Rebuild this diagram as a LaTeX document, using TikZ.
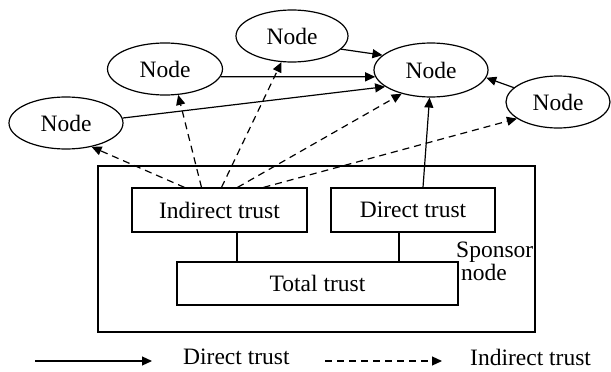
\documentclass[tikz,border=0pt]{standalone}
\usepackage{fontspec}
\setmainfont{Liberation Serif}
\usetikzlibrary{shapes.geometric,arrows.meta}
\begin{document}
\begin{tikzpicture}[x=1pt,y=-1pt,
  every node/.style={font=\fontsize{23.5}{22}\selectfont},
  peer/.style={draw,ellipse,line width=1.2pt,inner sep=0pt},
  box/.style={draw,rectangle,line width=1.2pt,inner sep=0pt},
  dir/.style={line width=1.2pt,-{Triangle[length=10pt,width=9pt]}},
  ind/.style={line width=1.2pt,dash pattern=on 7pt off 5pt,-{Triangle[length=10pt,width=9pt]}},
  conn/.style={line width=1.2pt}]
\useasboundingbox (0,0) rectangle (611,372);
% peer nodes
\node[peer,minimum width=114pt,minimum height=52pt] (nA) at (66,123) {Node};
\node[peer,minimum width=115pt,minimum height=52pt] (nB) at (165,69) {Node};
\node[peer,minimum width=112pt,minimum height=52pt] (nC) at (292,36) {Node};
\node[peer,minimum width=114pt,minimum height=54pt] (nD) at (431,70) {Node};
\node[peer,minimum width=104pt,minimum height=52pt] (nE) at (558,102) {Node};
% sponsor node
\node[box,minimum width=437pt,minimum height=166pt] (sp) at (316.5,249) {};
\node[box,minimum width=175pt,minimum height=44pt] (it) at (219.5,210) {Indirect trust};
\node[box,minimum width=164pt,minimum height=44pt] (dt) at (413,210) {Direct trust};
\node[box,minimum width=281pt,minimum height=43pt] (tt) at (317.5,283.5) {Total trust};
\node[anchor=west,align=left,inner sep=0pt] (spl) at (456,261) {Sponsor\\[1pt]\hspace*{5pt}node};
% internal links
\draw[conn] ([xshift=17.5pt]it.south) -- ([xshift=17.5pt]it.south |- tt.north);
\draw[conn] ([xshift=-14pt]dt.south) -- ([xshift=-14pt]dt.south |- tt.north);
% direct trust arrows
\draw[dir] (nB.-8) -- (nD.187);
\draw[dir] (nA.5) -- (nD.200);
\draw[dir] (nC.-15) -- (nD.163);
\draw[dir] (nE.162) -- (nD.-8);
\draw[dir] ([xshift=10pt]dt.north) -- (nD.-93);
% indirect trust arrows
\draw[ind] ([xshift=-35pt]it.north) -- (nA.-43);
\draw[ind] ([xshift=-18pt]it.north) -- (nB.-63);
\draw[ind] ([xshift=2pt]it.north) -- (nC.-112);
\draw[ind] ([xshift=18pt]it.north) -- (nD.-141);
\draw[ind] ([xshift=44pt]it.north) -- (nE.-158);
% legend
\coordinate (l1a) at (35,361);
\coordinate (l1b) at (152,361);
\coordinate (l2a) at (325,361);
\coordinate (l2b) at (442,361);
\draw[dir] (l1a) -- (l1b);
\node[anchor=west,inner sep=0pt] (l1t) at (183,357) {Direct trust};
\draw[ind] (l2a) -- (l2b);
\node[anchor=west,inner sep=0pt] (l2t) at (470,357) {Indirect trust};
\end{tikzpicture}
\end{document}
